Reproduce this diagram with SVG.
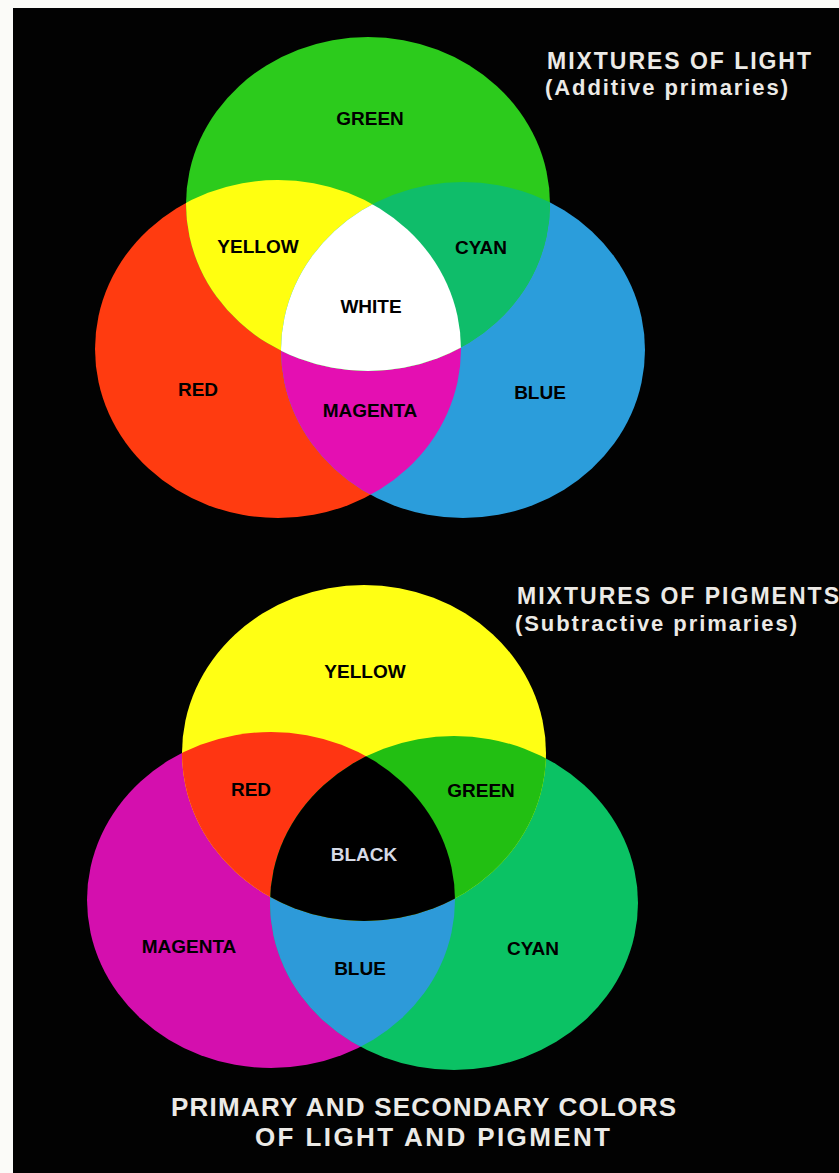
<svg xmlns="http://www.w3.org/2000/svg" width="839" height="1173" viewBox="0 0 839 1173">
<style>
.lbl{font-family:"Liberation Sans",Arial,sans-serif;font-weight:bold;font-size:19px;fill:#000;text-anchor:middle}
.hd{font-family:"Liberation Sans",Arial,sans-serif;font-weight:bold;fill:#eceae6}
</style>
<defs>
<ellipse id="tG" cx="368" cy="204" rx="182" ry="167"/>
<ellipse id="tR" cx="278" cy="349" rx="183" ry="169"/>
<ellipse id="tB" cx="463" cy="350" rx="182" ry="168"/>
<clipPath id="cR"><use href="#tR"/></clipPath>
<clipPath id="cB"><use href="#tB"/></clipPath>
<ellipse id="bY" cx="364" cy="753" rx="182" ry="168"/>
<ellipse id="bM" cx="271" cy="900" rx="184" ry="168"/>
<ellipse id="bC" cx="454" cy="903" rx="184" ry="167"/>
<clipPath id="cM"><use href="#bM"/></clipPath>
<clipPath id="cC"><use href="#bC"/></clipPath>
</defs>
<rect x="0" y="0" width="839" height="1173" fill="#fbfbf8"/>
<rect x="13" y="8" width="826" height="1165" fill="#020202"/>

<g id="light">
<use href="#tR" fill="#ff3b10"/>
<use href="#tB" fill="#2b9ddb"/>
<use href="#tG" fill="#2ccb1c"/>
<use href="#tB" fill="#e40fb2" clip-path="url(#cR)"/>
<use href="#tG" fill="#ffff10" clip-path="url(#cR)"/>
<use href="#tG" fill="#0fbd6a" clip-path="url(#cB)"/>
<g clip-path="url(#cR)"><use href="#tG" fill="#ffffff" clip-path="url(#cB)"/></g>
</g>
<g id="light-labels">
<text class="lbl" x="370" y="125">GREEN</text>
<text class="lbl" x="258" y="253">YELLOW</text>
<text class="lbl" x="481" y="254">CYAN</text>
<text class="lbl" x="371" y="313">WHITE</text>
<text class="lbl" x="198" y="396">RED</text>
<text class="lbl" x="370" y="417">MAGENTA</text>
<text class="lbl" x="540" y="399">BLUE</text>
</g>

<g id="pigment">
<use href="#bM" fill="#d40fae"/>
<use href="#bC" fill="#0bc264"/>
<use href="#bY" fill="#ffff14"/>
<use href="#bC" fill="#2d9ad9" clip-path="url(#cM)"/>
<use href="#bY" fill="#ff3512" clip-path="url(#cM)"/>
<use href="#bY" fill="#22bf12" clip-path="url(#cC)"/>
<g clip-path="url(#cM)"><use href="#bY" fill="#000000" clip-path="url(#cC)"/></g>
</g>
<g id="pigment-labels">
<text class="lbl" x="365" y="678">YELLOW</text>
<text class="lbl" x="251" y="796">RED</text>
<text class="lbl" x="481" y="797">GREEN</text>
<text class="lbl" x="364" y="861" style="fill:#d6dae6">BLACK</text>
<text class="lbl" x="189" y="953">MAGENTA</text>
<text class="lbl" x="360" y="975">BLUE</text>
<text class="lbl" x="533" y="955">CYAN</text>
</g>

<g id="titles">
<text class="hd" x="547" y="69" font-size="23" textLength="264" lengthAdjust="spacing">MIXTURES OF LIGHT</text>
<text class="hd" x="545" y="95" font-size="22" textLength="243" lengthAdjust="spacing">(Additive primaries)</text>
<text class="hd" x="517" y="604" font-size="23" textLength="322" lengthAdjust="spacing">MIXTURES OF PIGMENTS</text>
<text class="hd" x="515" y="631" font-size="22" textLength="282" lengthAdjust="spacing">(Subtractive primaries)</text>
<text class="hd" x="171" y="1116" font-size="26" textLength="505" lengthAdjust="spacing">PRIMARY AND SECONDARY COLORS</text>
<text class="hd" x="255" y="1146" font-size="26" textLength="355" lengthAdjust="spacing">OF LIGHT AND PIGMENT</text>
</g>
</svg>
